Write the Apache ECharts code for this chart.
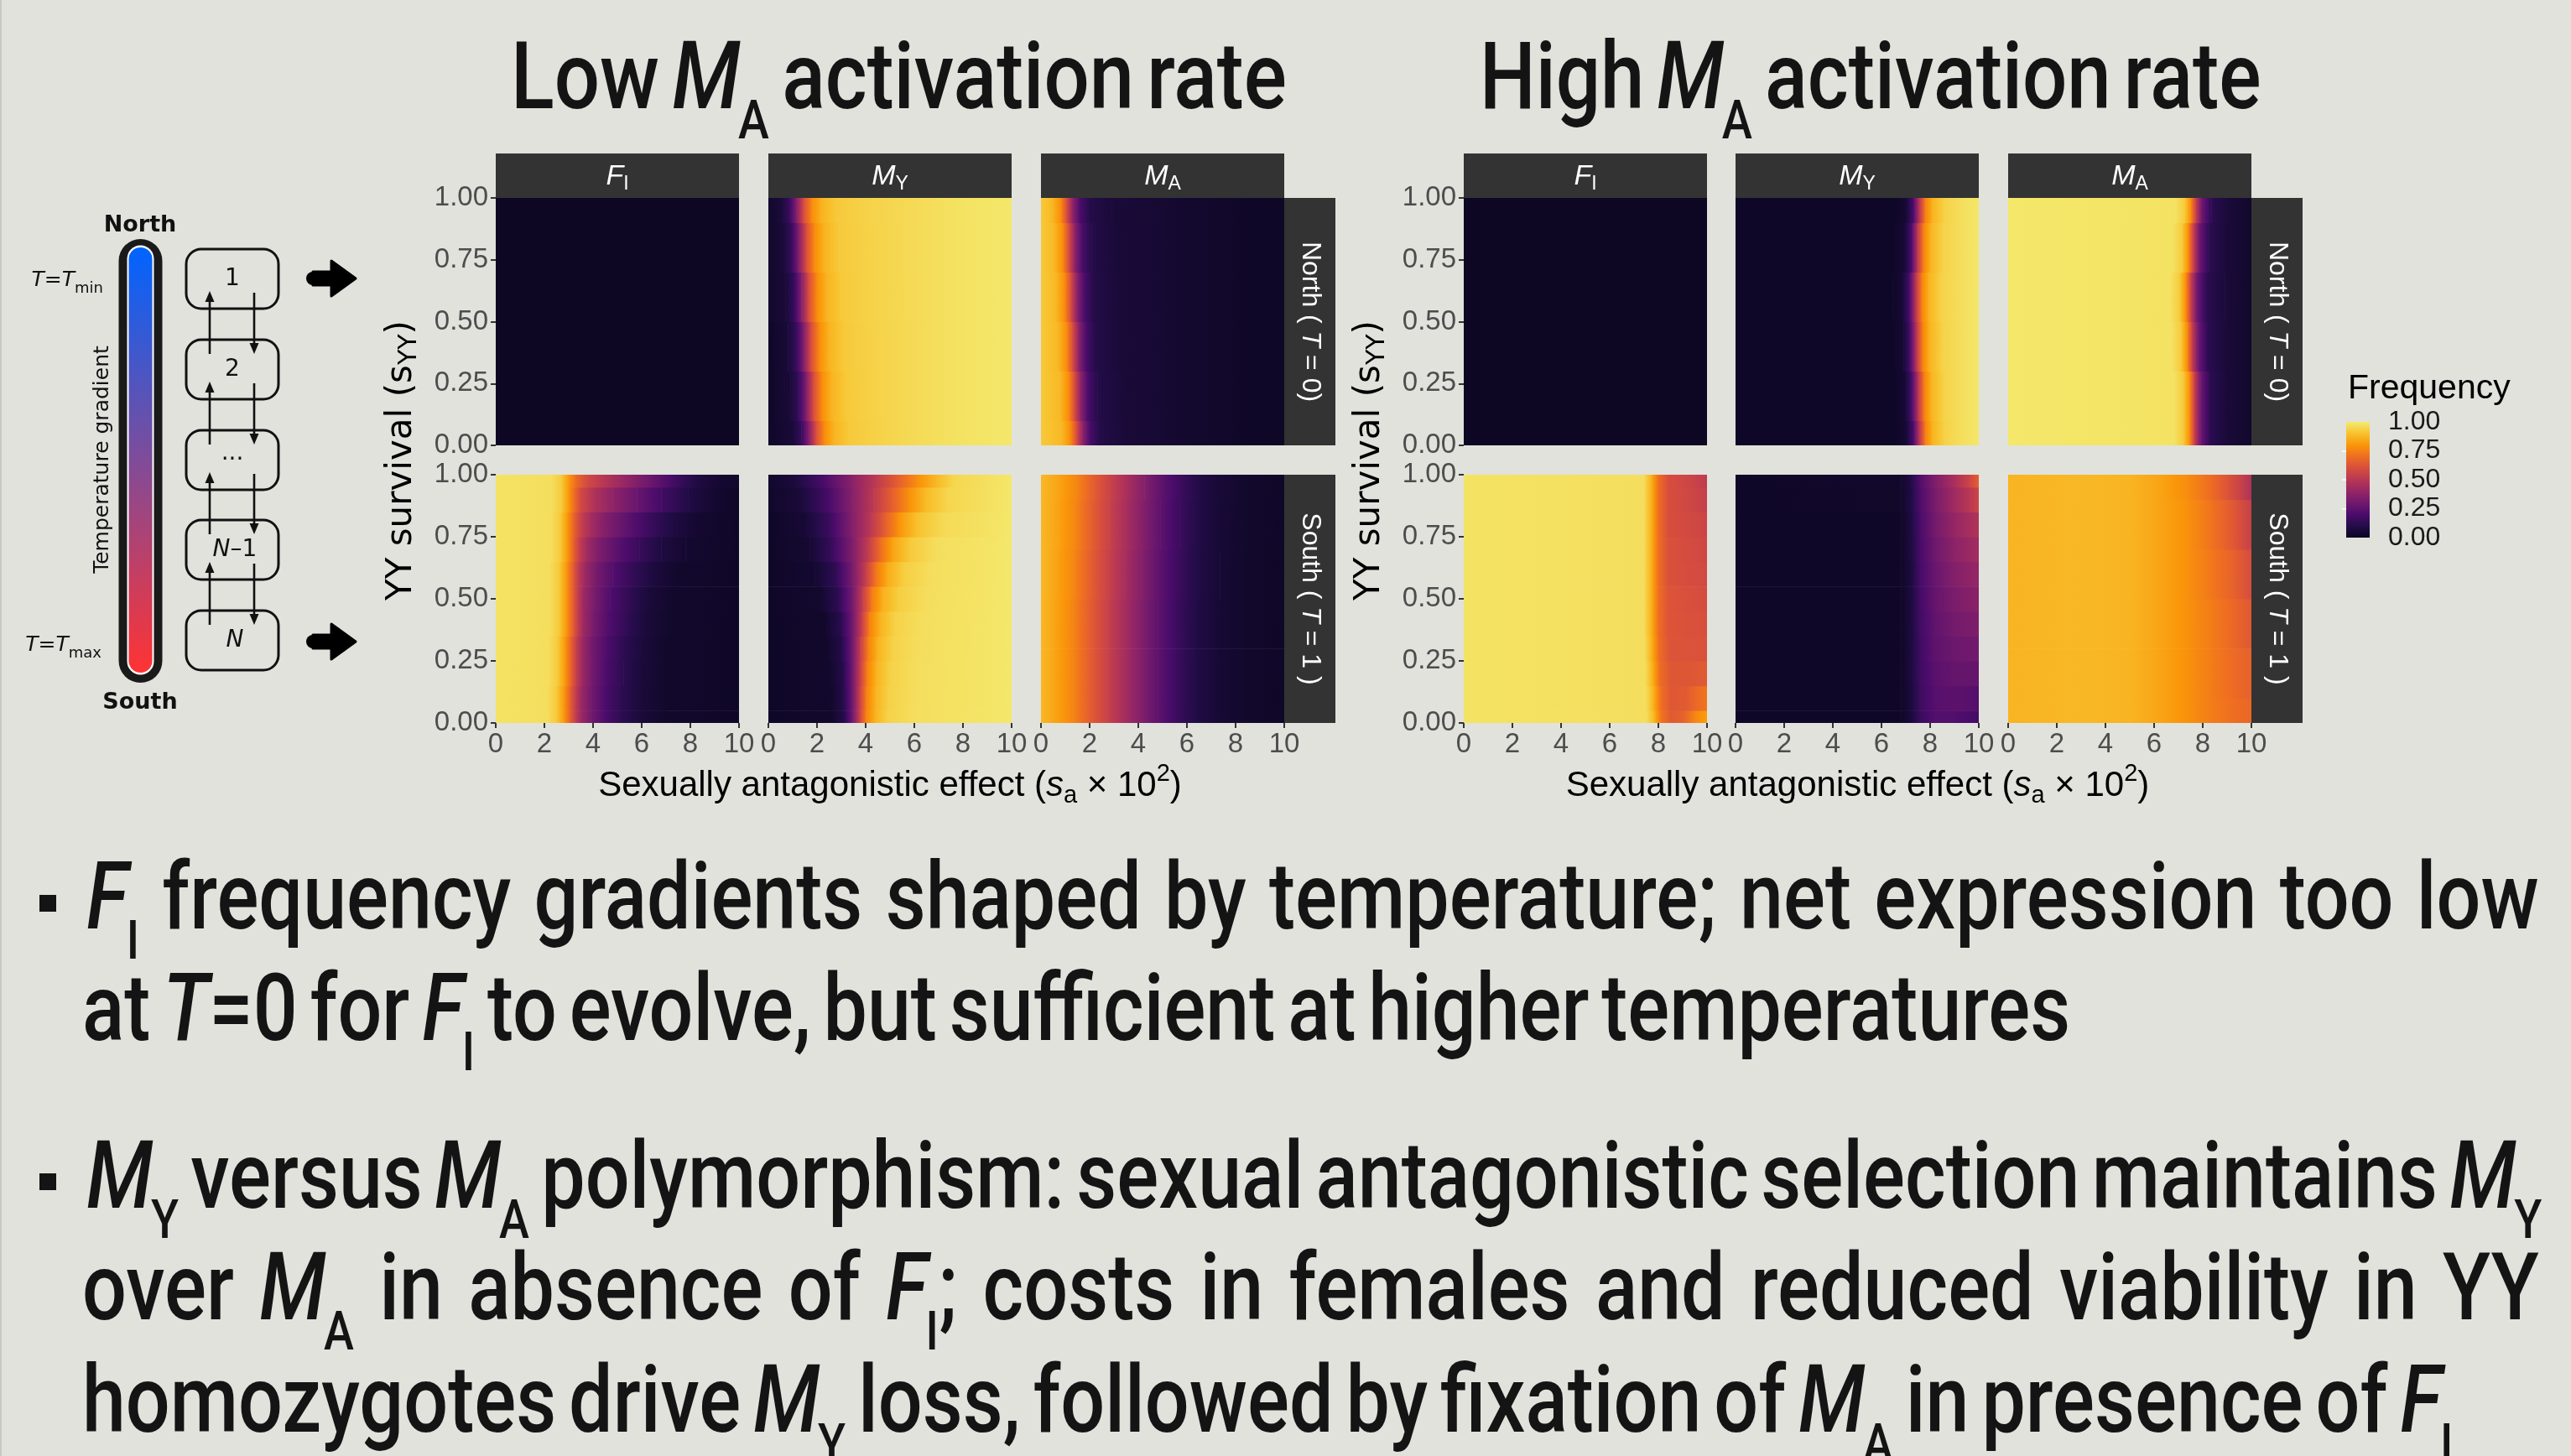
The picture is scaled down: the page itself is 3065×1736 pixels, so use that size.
<!DOCTYPE html>
<html><head><meta charset="utf-8">
<script src="https://cdn.jsdelivr.net/npm/echarts@6/dist/echarts.min.js"></script>
<style>
html,body{margin:0;padding:0;background:#E1E2DC;}
#wrap{position:relative;width:3065px;height:1736px;overflow:hidden;background:#E1E2DC;}
#chart{position:absolute;left:0;top:0;width:3065px;height:1736px;}
.t{position:absolute;white-space:nowrap;font-family:Roboto,'Liberation Sans',sans-serif;font-weight:500;font-size:112px;line-height:1;color:#141414;transform-origin:0 50%;word-spacing:-10px;}
.t i{font-style:italic;}
.t sub{font-size:0.58em;vertical-align:-0.55em;line-height:0;font-style:normal;margin-left:-0.04em;}
.bl{display:inline-block;width:0;height:0;vertical-align:baseline;}
.sq{position:absolute;width:20px;height:20px;background:#141414;}
</style></head>
<body><div id="wrap"><div id="chart"></div>
<div class="t" id="title0">Low <i>M</i><sub>A</sub> activation rate<span class="bl"></span></div>
<div class="t" id="title1">High <i>M</i><sub>A</sub> activation rate<span class="bl"></span></div>
<div class="sq" style="left:47px;top:1067px"></div>
<div class="t" id="b1"><i>F</i><sub>I</sub> frequency gradients shaped by temperature; net expression too low<span class="bl"></span></div>
<div class="t" id="b2">at <i>T</i>=0 for <i>F</i><sub>I</sub> to evolve, but sufficient at higher temperatures<span class="bl"></span></div>
<div class="sq" style="left:47px;top:1399px"></div>
<div class="t" id="b3"><i>M</i><sub>Y</sub> versus <i>M</i><sub>A</sub> polymorphism: sexual antagonistic selection maintains <i>M</i><sub>Y</sub><span class="bl"></span></div>
<div class="t" id="b4">over <i>M</i><sub>A</sub> in absence of <i>F</i><sub>I</sub>; costs in females and reduced viability in YY<span class="bl"></span></div>
<div class="t" id="b5">homozygotes drive <i>M</i><sub>Y</sub> loss, followed by fixation of <i>M</i><sub>A</sub> in presence of <i>F</i><sub>I</sub><span class="bl"></span></div>
</div>
<script>
// ---------------- DATA ----------------
const X_TICKS = [0, 2, 4, 6, 8, 10];
const Y_TICKS = [0, 0.25, 0.5, 0.75, 1];
const LEGEND_TICKS = [0, 0.25, 0.5, 0.75, 1];
const COLUMN_LABELS = [['F','I'], ['M','Y'], ['M','A']];
const ROW_LABELS = ['North ( {i|T} = 0)', 'South ( {i|T} = 1 )'];
// Each panel: list of profiles read at evenly spaced YY-survival heights (first = 0, last = 1);
// each profile = [sa*100, frequency] pairs.
const LOW_NORTH_FI = [
  [[0,0.01],[10,0.01]]];
const LOW_NORTH_MY = [
  [[0,0.02],[1.0,0.06],[1.35,0.15],[1.65,0.35],[1.95,0.6],[2.3,0.78],[2.7,0.87],[3.3,0.92],[4.5,0.94],[6,0.96],[8,0.98],[10,0.99]],
  [[0,0.02],[0.9,0.06],[1.25,0.15],[1.55,0.35],[1.85,0.6],[2.2,0.78],[2.6,0.87],[3.2,0.92],[4.4,0.94],[6,0.96],[8,0.98],[10,0.99]],
  [[0,0.02],[0.8,0.06],[1.15,0.15],[1.45,0.35],[1.75,0.6],[2.1,0.78],[2.5,0.87],[3.1,0.92],[4.3,0.94],[6,0.96],[8,0.98],[10,0.99]],
  [[0,0.03],[0.7,0.06],[1.05,0.15],[1.35,0.35],[1.65,0.6],[2.0,0.78],[2.4,0.87],[3.0,0.92],[4.2,0.94],[6,0.96],[8,0.98],[10,0.99]],
  [[0,0.03],[0.6,0.06],[0.95,0.15],[1.25,0.35],[1.55,0.6],[1.9,0.78],[2.3,0.87],[2.9,0.92],[4.1,0.94],[6,0.96],[8,0.98],[10,0.99]],
  [[0,0.03],[0.5,0.06],[0.85,0.15],[1.15,0.35],[1.45,0.6],[1.8,0.78],[2.2,0.87],[2.8,0.92],[4.0,0.94],[6,0.96],[8,0.98],[10,0.99]]];
const LOW_NORTH_MA = [
  [[0,0.92],[0.85,0.88],[1.2,0.78],[1.45,0.6],[1.7,0.38],[2.0,0.2],[2.4,0.1],[3.4,0.06],[5,0.045],[7,0.03],[8.5,0.02],[10,0.015]],
  [[0,0.92],[0.77,0.88],[1.12,0.78],[1.37,0.6],[1.62,0.38],[1.92,0.2],[2.32,0.1],[3.3,0.06],[5,0.045],[7,0.03],[8.5,0.02],[10,0.015]],
  [[0,0.92],[0.69,0.88],[1.04,0.78],[1.29,0.6],[1.54,0.38],[1.84,0.2],[2.24,0.1],[3.2,0.06],[5,0.045],[7,0.03],[8.5,0.02],[10,0.015]],
  [[0,0.92],[0.61,0.88],[0.96,0.78],[1.21,0.6],[1.46,0.38],[1.76,0.2],[2.16,0.1],[3.1,0.06],[5,0.045],[7,0.03],[8.5,0.02],[10,0.015]],
  [[0,0.92],[0.53,0.88],[0.88,0.78],[1.13,0.6],[1.38,0.38],[1.68,0.2],[2.08,0.1],[3.0,0.06],[5,0.045],[7,0.03],[8.5,0.02],[10,0.015]],
  [[0,0.92],[0.45,0.88],[0.8,0.78],[1.05,0.6],[1.3,0.38],[1.6,0.2],[2.0,0.1],[2.9,0.06],[5,0.045],[7,0.03],[8.5,0.02],[10,0.015]]];
const LOW_SOUTH_FI = [
  [[0,0.98],[2.1,0.97],[2.5,0.92],[2.8,0.8],[3.05,0.66],[3.25,0.54],[3.5,0.42],[3.9,0.31],[4.5,0.2],[5.2,0.12],[6.0,0.06],[7,0.03],[10,0.02]],
  [[0,0.98],[2.1,0.97],[2.5,0.92],[2.8,0.8],[3.05,0.66],[3.25,0.54],[3.5,0.42],[3.9,0.31],[4.5,0.2],[5.2,0.12],[6.0,0.06],[7,0.03],[10,0.02]],
  [[0,0.98],[2.15,0.97],[2.55,0.92],[2.85,0.8],[3.1,0.66],[3.3,0.54],[3.55,0.42],[3.95,0.31],[4.55,0.2],[5.25,0.12],[6.05,0.06],[7,0.03],[10,0.02]],
  [[0,0.98],[2.15,0.97],[2.55,0.92],[2.85,0.8],[3.1,0.66],[3.3,0.54],[3.55,0.42],[3.95,0.31],[4.6,0.2],[5.3,0.12],[6.1,0.06],[7,0.03],[10,0.02]],
  [[0,0.98],[2.2,0.97],[2.6,0.92],[2.9,0.8],[3.15,0.66],[3.35,0.54],[3.6,0.42],[4.0,0.32],[4.65,0.21],[5.4,0.13],[6.2,0.06],[7.2,0.03],[10,0.02]],
  [[0,0.98],[2.2,0.97],[2.6,0.92],[2.9,0.8],[3.15,0.66],[3.35,0.54],[3.6,0.42],[4.05,0.32],[4.7,0.21],[5.5,0.13],[6.3,0.06],[7.3,0.03],[10,0.02]],
  [[0,0.98],[2.2,0.97],[2.6,0.92],[2.9,0.8],[3.15,0.66],[3.35,0.54],[3.65,0.42],[4.1,0.32],[4.8,0.22],[5.6,0.14],[6.5,0.07],[7.5,0.03],[10,0.02]],
  [[0,0.98],[2.25,0.97],[2.65,0.92],[2.95,0.8],[3.2,0.66],[3.4,0.55],[3.7,0.44],[4.2,0.34],[5.0,0.24],[5.9,0.15],[6.8,0.08],[7.8,0.04],[10,0.02]],
  [[0,0.98],[2.25,0.97],[2.65,0.92],[2.95,0.8],[3.2,0.67],[3.45,0.56],[3.8,0.46],[4.4,0.36],[5.3,0.26],[6.3,0.16],[7.3,0.08],[8.3,0.04],[10,0.02]],
  [[0,0.98],[2.3,0.97],[2.7,0.92],[3.0,0.8],[3.25,0.68],[3.5,0.58],[4.0,0.48],[4.8,0.38],[5.8,0.28],[6.8,0.18],[7.9,0.09],[9,0.04],[10,0.02]],
  [[0,0.98],[2.3,0.97],[2.7,0.92],[3.0,0.8],[3.3,0.69],[3.7,0.59],[4.4,0.5],[5.3,0.4],[6.3,0.29],[7.3,0.18],[8.3,0.08],[9.3,0.04],[10,0.03]]];
const LOW_SOUTH_MY = [
  [[0,0.02],[2.6,0.03],[3.1,0.1],[3.45,0.3],[3.75,0.55],[4.0,0.75],[4.4,0.87],[4.9,0.94],[6,0.97],[10,0.99]],
  [[0,0.02],[2.55,0.03],[3.08,0.1],[3.45,0.3],[3.76,0.55],[4.02,0.75],[4.42,0.87],[4.95,0.94],[6.05,0.97],[10,0.99]],
  [[0,0.02],[2.5,0.03],[3.05,0.1],[3.45,0.3],[3.78,0.55],[4.05,0.75],[4.45,0.87],[5.0,0.94],[6.1,0.97],[10,0.99]],
  [[0,0.02],[2.4,0.03],[3.0,0.1],[3.45,0.3],[3.8,0.55],[4.1,0.75],[4.5,0.87],[5.1,0.94],[6.2,0.97],[10,0.99]],
  [[0,0.02],[2.3,0.03],[2.95,0.11],[3.45,0.3],[3.85,0.55],[4.15,0.75],[4.6,0.87],[5.2,0.94],[6.3,0.97],[10,0.99]],
  [[0,0.02],[2.1,0.035],[2.85,0.12],[3.45,0.31],[3.9,0.55],[4.25,0.74],[4.7,0.86],[5.35,0.93],[6.5,0.97],[10,0.99]],
  [[0,0.02],[1.9,0.04],[2.75,0.13],[3.45,0.32],[4.0,0.54],[4.4,0.72],[4.9,0.85],[5.55,0.93],[6.7,0.97],[10,0.99]],
  [[0,0.02],[1.7,0.045],[2.6,0.15],[3.45,0.34],[4.1,0.53],[4.6,0.7],[5.1,0.83],[5.8,0.92],[6.9,0.97],[10,0.99]],
  [[0,0.02],[1.5,0.05],[2.5,0.16],[3.45,0.35],[4.25,0.52],[4.85,0.67],[5.4,0.8],[6.1,0.9],[7.2,0.96],[10,0.99]],
  [[0,0.025],[1.3,0.06],[2.4,0.18],[3.45,0.36],[4.35,0.52],[5.1,0.66],[5.8,0.79],[6.5,0.89],[7.4,0.95],[10,0.99]],
  [[0,0.03],[1.1,0.07],[2.3,0.2],[3.45,0.37],[4.45,0.52],[5.3,0.65],[6.1,0.78],[6.9,0.88],[7.6,0.95],[10,0.99]]];
const LOW_SOUTH_MA = [
  [[0,0.88],[0.6,0.83],[1.3,0.76],[2.0,0.65],[2.7,0.55],[3.4,0.45],[4.1,0.35],[4.8,0.25],[5.6,0.16],[6.4,0.09],[7.3,0.05],[8.5,0.03],[10,0.02]],
  [[0,0.88],[0.6,0.83],[1.3,0.76],[2.0,0.65],[2.7,0.55],[3.4,0.45],[4.1,0.35],[4.8,0.25],[5.6,0.16],[6.4,0.09],[7.3,0.05],[8.5,0.03],[10,0.02]],
  [[0,0.88],[0.6,0.83],[1.3,0.76],[2.0,0.65],[2.7,0.55],[3.4,0.45],[4.1,0.35],[4.8,0.25],[5.6,0.16],[6.4,0.09],[7.3,0.05],[8.5,0.03],[10,0.02]],
  [[0,0.88],[0.65,0.83],[1.35,0.76],[2.05,0.65],[2.75,0.55],[3.45,0.45],[4.15,0.35],[4.85,0.25],[5.65,0.16],[6.45,0.09],[7.35,0.05],[8.5,0.03],[10,0.02]],
  [[0,0.88],[0.7,0.83],[1.4,0.76],[2.1,0.65],[2.8,0.55],[3.5,0.45],[4.2,0.35],[4.9,0.25],[5.7,0.16],[6.5,0.09],[7.4,0.05],[8.6,0.03],[10,0.02]],
  [[0,0.88],[0.75,0.83],[1.45,0.76],[2.15,0.65],[2.85,0.55],[3.55,0.45],[4.25,0.35],[4.95,0.25],[5.75,0.16],[6.55,0.09],[7.45,0.05],[8.6,0.03],[10,0.02]]];
const HIGH_NORTH_FI = [
  [[0,0.01],[10,0.01]]];
const HIGH_NORTH_MY = [
  [[0,0.02],[6.6,0.02],[7.0,0.05],[7.3,0.2],[7.55,0.5],[7.8,0.75],[8.1,0.87],[8.6,0.94],[9.3,0.97],[10,0.99]],
  [[0,0.02],[6.55,0.02],[6.95,0.05],[7.25,0.2],[7.5,0.5],[7.75,0.75],[8.05,0.87],[8.55,0.94],[9.3,0.97],[10,0.99]],
  [[0,0.02],[6.5,0.02],[6.9,0.05],[7.18,0.2],[7.43,0.5],[7.68,0.75],[7.98,0.87],[8.5,0.94],[9.3,0.97],[10,0.99]],
  [[0,0.02],[6.45,0.02],[6.85,0.05],[7.15,0.2],[7.4,0.5],[7.65,0.75],[7.95,0.87],[8.45,0.94],[9.3,0.97],[10,0.99]],
  [[0,0.02],[6.5,0.02],[6.92,0.05],[7.22,0.2],[7.47,0.5],[7.72,0.75],[8.02,0.87],[8.52,0.94],[9.3,0.97],[10,0.99]],
  [[0,0.02],[6.6,0.02],[7.0,0.05],[7.3,0.2],[7.55,0.5],[7.8,0.75],[8.1,0.87],[8.6,0.94],[9.3,0.97],[10,0.99]]];
const HIGH_NORTH_MA = [
  [[0,0.99],[6.8,0.98],[7.2,0.92],[7.45,0.78],[7.65,0.55],[7.9,0.3],[8.3,0.12],[9.0,0.06],[10,0.03]],
  [[0,0.99],[6.8,0.98],[7.2,0.92],[7.45,0.78],[7.65,0.55],[7.9,0.3],[8.3,0.12],[9.0,0.06],[10,0.03]],
  [[0,0.99],[6.7,0.98],[7.1,0.92],[7.35,0.78],[7.55,0.55],[7.8,0.3],[8.2,0.12],[8.95,0.06],[10,0.03]],
  [[0,0.99],[6.65,0.98],[7.05,0.92],[7.3,0.78],[7.5,0.55],[7.75,0.3],[8.15,0.12],[8.9,0.06],[10,0.03]],
  [[0,0.99],[6.75,0.98],[7.15,0.92],[7.4,0.78],[7.6,0.55],[7.85,0.3],[8.25,0.12],[9.0,0.06],[10,0.03]],
  [[0,0.99],[6.85,0.98],[7.25,0.92],[7.5,0.78],[7.7,0.55],[7.95,0.3],[8.35,0.12],[9.05,0.06],[10,0.03]]];
const HIGH_SOUTH_FI = [
  [[0,0.98],[7.5,0.97],[7.8,0.88],[8.1,0.72],[8.5,0.64],[9.0,0.66],[9.5,0.76],[10,0.82]],
  [[0,0.98],[7.48,0.97],[7.78,0.87],[8.08,0.71],[8.5,0.63],[9.1,0.64],[9.6,0.69],[10,0.72]],
  [[0,0.98],[7.45,0.97],[7.75,0.86],[8.05,0.7],[8.5,0.63],[9.3,0.63],[10,0.64]],
  [[0,0.98],[7.42,0.97],[7.72,0.86],[8.02,0.7],[8.45,0.62],[10,0.61]],
  [[0,0.98],[7.4,0.97],[7.7,0.86],[8.0,0.7],[8.4,0.62],[10,0.6]],
  [[0,0.98],[7.4,0.97],[7.7,0.86],[8.0,0.7],[8.4,0.62],[10,0.59]],
  [[0,0.98],[7.4,0.97],[7.7,0.86],[8.0,0.7],[8.4,0.61],[10,0.58]],
  [[0,0.98],[7.4,0.97],[7.7,0.86],[8.0,0.7],[8.4,0.61],[10,0.57]],
  [[0,0.98],[7.4,0.97],[7.7,0.86],[8.0,0.7],[8.4,0.6],[10,0.56]],
  [[0,0.98],[7.4,0.97],[7.7,0.86],[8.0,0.7],[8.4,0.6],[9.5,0.56],[10,0.54]],
  [[0,0.98],[7.4,0.97],[7.7,0.86],[8.0,0.7],[8.4,0.6],[9.5,0.55],[10,0.52]]];
const HIGH_SOUTH_MY = [
  [[0,0.02],[6.8,0.02],[7.2,0.06],[7.6,0.16],[8.2,0.22],[9.0,0.22],[10,0.18]],
  [[0,0.02],[6.8,0.02],[7.2,0.065],[7.6,0.165],[8.2,0.23],[9.0,0.245],[10,0.225]],
  [[0,0.02],[6.8,0.02],[7.2,0.07],[7.6,0.17],[8.2,0.24],[9.0,0.27],[10,0.27]],
  [[0,0.02],[6.8,0.02],[7.2,0.07],[7.6,0.175],[8.2,0.25],[9.0,0.29],[10,0.305]],
  [[0,0.02],[6.8,0.02],[7.2,0.07],[7.6,0.18],[8.2,0.26],[9.0,0.31],[10,0.34]],
  [[0,0.02],[6.8,0.02],[7.2,0.07],[7.6,0.185],[8.2,0.27],[9.0,0.33],[10,0.37]],
  [[0,0.02],[6.8,0.02],[7.2,0.07],[7.6,0.19],[8.2,0.28],[9.0,0.35],[10,0.4]],
  [[0,0.02],[6.8,0.02],[7.2,0.075],[7.6,0.195],[8.2,0.295],[9.0,0.375],[10,0.44]],
  [[0,0.02],[6.8,0.02],[7.2,0.08],[7.6,0.2],[8.2,0.31],[9.0,0.4],[10,0.48]],
  [[0,0.02],[6.8,0.025],[7.2,0.085],[7.6,0.21],[8.2,0.325],[9.0,0.43],[9.6,0.5],[10,0.57]],
  [[0,0.02],[6.8,0.03],[7.2,0.09],[7.6,0.22],[8.2,0.34],[9.0,0.46],[9.6,0.56],[10,0.66]]];
const HIGH_SOUTH_MA = [
  [[0,0.87],[3,0.88],[5,0.87],[6.3,0.83],[7.3,0.79],[8.3,0.74],[9.3,0.7],[10,0.68]],
  [[0,0.87],[3,0.88],[5,0.87],[6.3,0.83],[7.3,0.79],[8.3,0.74],[9.3,0.69],[10,0.66]],
  [[0,0.87],[3,0.88],[5,0.87],[6.3,0.83],[7.3,0.79],[8.3,0.74],[9.3,0.68],[10,0.63]],
  [[0,0.87],[3,0.88],[5,0.87],[6.3,0.83],[7.3,0.79],[8.3,0.73],[9.3,0.66],[10,0.59]],
  [[0,0.87],[3,0.88],[5,0.87],[6.3,0.83],[7.3,0.79],[8.3,0.72],[9.3,0.63],[10,0.54]],
  [[0,0.87],[3,0.88],[5,0.87],[6.3,0.83],[7.3,0.78],[8.3,0.7],[9.0,0.62],[9.6,0.54],[10,0.47]]];

// inferno-like palette, value 0 -> 1
const PALETTE = ['#0A0620','#240C49','#4B0C6B','#70196D','#952665','#B83754','#D74E3D','#EE6D22','#FA9609','#F8C12D','#F3EB71'];

// ---------------- LAYOUT ----------------
const PANEL_DATA = [
  [[LOW_NORTH_FI, LOW_NORTH_MY, LOW_NORTH_MA], [LOW_SOUTH_FI, LOW_SOUTH_MY, LOW_SOUTH_MA]],
  [[HIGH_NORTH_FI, HIGH_NORTH_MY, HIGH_NORTH_MA], [HIGH_SOUTH_FI, HIGH_SOUTH_MY, HIGH_SOUTH_MA]]
];
const COL_LEFT = [[591, 916, 1241], [1745, 2069, 2394]];
const ROW_TOP = [236, 566], ROW_H = [295, 296], PW = 290;
const STRIP_TOP = 183, STRIP_H = 53, RSTRIP_W = 61;
const FONT_AX = "'Liberation Sans', Arial, Helvetica, sans-serif";
const FONT_DG = "'DejaVu Sans', Verdana, sans-serif";

function clamp01(v){ return Math.max(0, Math.min(1, v)); }
function colorAt(v){
  v = clamp01(v);
  if (echarts.color && echarts.color.lerp) return echarts.color.lerp(v, PALETTE);
  const n = PALETTE.length - 1, f = v * n, i = Math.min(n - 1, Math.floor(f)), t = f - i;
  const p = c => [parseInt(c.substr(1,2),16), parseInt(c.substr(3,2),16), parseInt(c.substr(5,2),16)];
  const a = p(PALETTE[i]), b = p(PALETTE[i+1]);
  return 'rgb(' + a.map((x,k)=>Math.round(x + (b[k]-x)*t)).join(',') + ')';
}
function segmentStops(v0, v1){
  const stops = [{offset:0, color:colorAt(v0)}];
  const lo = Math.min(v0, v1), hi = Math.max(v0, v1), n = PALETTE.length - 1;
  if (hi - lo > 1e-6) {
    for (let k = 1; k < n; k++) {
      const b = k / n;
      if (b > lo && b < hi) stops.push({offset:(b - v0) / (v1 - v0), color:PALETTE[k]});
    }
  }
  stops.push({offset:1, color:colorAt(v1)});
  stops.sort((a, b) => a.offset - b.offset);
  return stops;
}
function buildCells(profiles){
  const out = [], n = profiles.length;
  const lev = k => n === 1 ? 0.5 : k / (n - 1);
  profiles.forEach((row, k) => {
    const yLo = k === 0 ? 0 : (lev(k-1) + lev(k)) / 2;
    const yHi = k === n - 1 ? 1 : (lev(k) + lev(k+1)) / 2;
    for (let i = 0; i < row.length - 1; i++)
      out.push([row[i][0], row[i+1][0], yLo, yHi, row[i][1], row[i+1][1]]);
  });
  return out;
}
function renderCell(params, api){
  const a = api.coord([api.value(0), api.value(3)]);
  const b = api.coord([api.value(1), api.value(2)]);
  return {
    type:'rect', silent:true,
    shape:{x:a[0], y:a[1], width:b[0]-a[0]+0.6, height:b[1]-a[1]+0.6},
    style:{fill:new echarts.graphic.LinearGradient(0,0,1,0, segmentStops(api.value(4), api.value(5)))}
  };
}
function renderLegend(params, api){
  const a = api.coord([0, 1]), b = api.coord([1, 0]);
  return {
    type:'rect', silent:true,
    shape:{x:a[0], y:a[1], width:b[0]-a[0], height:b[1]-a[1]},
    style:{fill:new echarts.graphic.LinearGradient(0,1,0,0, segmentStops(api.value(0), api.value(1)))}
  };
}

const grids = [], xAxes = [], yAxes = [], series = [], graphics = [];
let idx = 0;
for (let g = 0; g < 2; g++) {
  for (let r = 0; r < 2; r++) {
    for (let c = 0; c < 3; c++) {
      const left = COL_LEFT[g][c], top = ROW_TOP[r], h = ROW_H[r];
      const isBottom = r === 1, isLeft = c === 0;
      grids.push({left:left, top:top, width:PW, height:h, containLabel:false, outerBoundsMode:'none', show:false});
      xAxes.push({gridIndex:idx, type:'value', min:X_TICKS[0], max:X_TICKS[X_TICKS.length-1], interval:2,
        axisLine:{show:false}, splitLine:{show:false},
        axisTick:{show:isBottom, length:6, lineStyle:{color:'#333333', width:2}},
        axisLabel:{show:isBottom, color:'#4D4D4D', fontSize:33, fontFamily:FONT_AX, margin:9,
          formatter:v=>String(v)}});
      yAxes.push({gridIndex:idx, type:'value', min:Y_TICKS[0], max:Y_TICKS[Y_TICKS.length-1], interval:0.25,
        axisLine:{show:false}, splitLine:{show:false},
        axisTick:{show:isLeft, length:6, lineStyle:{color:'#333333', width:2}},
        axisLabel:{show:isLeft, color:'#4D4D4D', fontSize:33, fontFamily:FONT_AX, margin:9,
          formatter:v=>v.toFixed(2)}});
      series.push({type:'custom', xAxisIndex:idx, yAxisIndex:idx, clip:true, silent:true,
        renderItem:renderCell, data:buildCells(PANEL_DATA[g][r][c]), animation:false});
      if (r === 0) {
        graphics.push({type:'rect', shape:{x:left, y:STRIP_TOP, width:PW, height:STRIP_H}, style:{fill:'#333333'}, silent:true});
        graphics.push({type:'text', x:left + PW/2, y:STRIP_TOP + STRIP_H/2 + 1, silent:true, style:{
          text:'{i|' + COLUMN_LABELS[c][0] + '}{s|' + COLUMN_LABELS[c][1] + '}',
          align:'center', verticalAlign:'middle', textAlign:'center', textVerticalAlign:'middle', fill:'#FFFFFF',
          rich:{i:{fontSize:34, fontStyle:'italic', fontFamily:FONT_AX, lineHeight:46, fill:'#FFFFFF'},
                s:{fontSize:23, fontFamily:FONT_AX, lineHeight:23, padding:[18,0,0,0], fill:'#FFFFFF'}}}});
      }
      if (c === 2) {
        graphics.push({type:'rect', shape:{x:left + PW, y:top, width:RSTRIP_W, height:h}, style:{fill:'#333333'}, silent:true});
        graphics.push({type:'text', x:left + PW + RSTRIP_W/2, y:top + h/2, rotation:-Math.PI/2, silent:true, style:{
          text:ROW_LABELS[r], align:'center', verticalAlign:'middle', textAlign:'center', textVerticalAlign:'middle',
          fill:'#FFFFFF', fontSize:32, fontFamily:FONT_AX,
          rich:{i:{fontSize:32, fontStyle:'italic', fontFamily:FONT_AX, fill:'#FFFFFF'}}}});
      }
      idx++;
    }
  }
  const gx0 = COL_LEFT[g][0], gx1 = COL_LEFT[g][2] + PW;
  graphics.push({type:'text', x:(gx0 + gx1)/2, y:937, silent:true, style:{
    text:'Sexually antagonistic effect ({i|s}{sb|a}{n| × 10}{sp|2}{n|)}',
    align:'center', verticalAlign:'middle', textAlign:'center', textVerticalAlign:'middle',
    fill:'#000000', fontSize:42, fontFamily:FONT_AX, lineHeight:60,
    rich:{i:{fontSize:42, fontStyle:'italic', fontFamily:FONT_AX, lineHeight:60, fill:'#000'},
          n:{fontSize:42, fontFamily:FONT_AX, lineHeight:60, fill:'#000'},
          sb:{fontSize:29, fontFamily:FONT_AX, lineHeight:29, padding:[24,0,0,0], fill:'#000'},
          sp:{fontSize:29, fontFamily:FONT_AX, lineHeight:29, padding:[0,0,28,0], fill:'#000'}}}});
  graphics.push({type:'text', x:gx0 - 112, y:(ROW_TOP[0] + ROW_TOP[1] + ROW_H[1])/2, rotation:Math.PI/2, silent:true, style:{
    text:'YY survival ({n|s}{sb|YY}{n|)}',
    align:'center', verticalAlign:'middle', textAlign:'center', textVerticalAlign:'middle',
    fill:'#000000', fontSize:42, fontFamily:FONT_DG, lineHeight:58,
    rich:{n:{fontSize:42, fontFamily:FONT_DG, lineHeight:58, fill:'#000'},
          sb:{fontSize:30, fontFamily:FONT_DG, lineHeight:30, padding:[18,0,0,0], fill:'#000'}}}});
}

// legend colour bar
grids.push({left:2797, top:503, width:28, height:138, containLabel:false, outerBoundsMode:'none', show:false});
xAxes.push({gridIndex:12, type:'value', min:0, max:1, show:false});
yAxes.push({gridIndex:12, type:'value', min:LEGEND_TICKS[0], max:LEGEND_TICKS[LEGEND_TICKS.length-1], interval:0.25, position:'right',
  axisLine:{show:false}, splitLine:{show:false},
  axisTick:{show:true, inside:true, length:5, lineStyle:{color:'#FFFFFF', width:1.5}, customValues:[0.25,0.5,0.75]},
  axisLabel:{show:true, margin:22, fontSize:32, color:'#1A1A1A', fontFamily:FONT_AX, formatter:v=>v.toFixed(2)}});
yAxes.push({gridIndex:12, type:'value', min:0, max:1, interval:0.25, position:'left',
  axisLine:{show:false}, splitLine:{show:false}, axisLabel:{show:false},
  axisTick:{show:true, inside:true, length:5, lineStyle:{color:'#FFFFFF', width:1.5}, customValues:[0.25,0.5,0.75]}});
series.push({type:'custom', xAxisIndex:12, yAxisIndex:12, silent:true, renderItem:renderLegend,
  data:[[LEGEND_TICKS[0], LEGEND_TICKS[LEGEND_TICKS.length-1]]], z:1});
graphics.push({type:'text', x:2799, y:464, silent:true, style:{text:'Frequency', align:'left', verticalAlign:'middle',
  textAlign:'left', textVerticalAlign:'middle', fill:'#000', fontSize:41, fontFamily:FONT_AX}});

// ---------------- DIAGRAM (left) ----------------
graphics.push({type:'rect', shape:{x:0, y:0, width:2, height:1736}, style:{fill:'#C8C9C3'}, silent:true});
graphics.push({type:'rect', shape:{x:141.5, y:285, width:52, height:529, r:26}, style:{fill:'#1A1A1A'}, silent:true});
graphics.push({type:'rect', shape:{x:151.5, y:292.5, width:32, height:512, r:16}, style:{fill:'#FFFFFF'}, silent:true});
graphics.push({type:'rect', shape:{x:153.5, y:295, width:28, height:507, r:14}, silent:true,
  style:{fill:new echarts.graphic.LinearGradient(0,0,0,1,[{offset:0,color:'#0064FF'},{offset:1,color:'#FF3333'}])}});
const dText = (x, y, text, opt) => graphics.push(Object.assign({type:'text', x:x, y:y, silent:true},
  {style:Object.assign({text:text, align:'center', verticalAlign:'middle', textAlign:'center', textVerticalAlign:'middle',
    fill:'#111111', fontSize:28, fontFamily:FONT_DG}, opt || {})}));
dText(167, 269, 'North', {fontWeight:'bold', fontSize:27});
dText(167, 838, 'South', {fontWeight:'bold', fontSize:27});
graphics.push({type:'text', x:122, y:548, rotation:Math.PI/2, silent:true, style:{text:'Temperature gradient',
  align:'center', verticalAlign:'middle', textAlign:'center', textVerticalAlign:'middle', fill:'#111', fontSize:25, fontFamily:FONT_DG}});
const tRich = {i:{fontSize:25, fontStyle:'italic', fontFamily:FONT_DG, lineHeight:44, fill:'#111'},
  n:{fontSize:25, fontFamily:FONT_DG, lineHeight:44, fill:'#111'},
  s:{fontSize:18, fontFamily:FONT_DG, lineHeight:18, padding:[20,0,0,0], fill:'#111'}};
dText(123, 334, '{i|T}{n|=}{i|T}{s|min}', {align:'right', textAlign:'right', rich:tRich});
dText(121, 769, '{i|T}{n|=}{i|T}{s|max}', {align:'right', textAlign:'right', rich:tRich});
const BOX_TOPS = [297, 405, 513, 620, 728], BOX_H = 71;
const BOX_LABELS = ['1', '2', '...', '{i|N}–1', '{i|N}'];
BOX_TOPS.forEach((t, k) => {
  graphics.push({type:'rect', shape:{x:222, y:t, width:110, height:BOX_H, r:18}, silent:true,
    style:{fill:'rgba(0,0,0,0)', stroke:'#111111', lineWidth:3}});
  dText(k >= 3 ? 280 : 277, t + BOX_H/2 + (k === 2 ? -8 : 0), BOX_LABELS[k],
    {rich:{i:{fontSize:28, fontStyle:'italic', fontFamily:FONT_DG, fill:'#111'}}});
  if (k < BOX_TOPS.length - 1) {
    const tail = BOX_TOPS[k+1] + 17, tip = t + BOX_H - 21;
    graphics.push({type:'line', shape:{x1:250, y1:tail, x2:250, y2:tip + 8}, style:{stroke:'#111', lineWidth:2.6}, silent:true});
    graphics.push({type:'polygon', shape:{points:[[244.5, tip + 13], [250, tip], [255.5, tip + 13]]}, style:{fill:'#111'}, silent:true});
    const dTail = t + BOX_H - 19, dTip = BOX_TOPS[k+1] + 17;
    graphics.push({type:'line', shape:{x1:303, y1:dTail, x2:303, y2:dTip - 8}, style:{stroke:'#111', lineWidth:2.6}, silent:true});
    graphics.push({type:'polygon', shape:{points:[[297.5, dTip - 13], [303, dTip], [308.5, dTip - 13]]}, style:{fill:'#111'}, silent:true});
  }
});
[332, 765].forEach(cy => {
  graphics.push({type:'circle', shape:{cx:373, cy:cy, r:8}, style:{fill:'#000'}, silent:true});
  graphics.push({type:'polygon', silent:true,
    shape:{points:[[373,cy-8],[395,cy-8],[395,cy-21],[424,cy],[395,cy+21],[395,cy+8],[373,cy+8]]},
    style:{fill:'#000', stroke:'#000', lineWidth:3, lineJoin:'round'}});
});

const chart = echarts.init(document.getElementById('chart'), null, {renderer:'canvas'});
chart.setOption({
  backgroundColor:'#E1E2DC', animation:false,
  grid:grids, xAxis:xAxes, yAxis:yAxes, series:series,
  graphic:{elements:graphics}
});

// ---------------- HTML text layout (titles, bullets) ----------------
const TEXT_LAYOUT = [
  {id:'title0', left:609, base:129, right:1534, mode:'fit'},
  {id:'title1', left:1764, base:129, right:2696, mode:'fit'},
  {id:'b1', left:103, base:1107, right:3027, mode:'justify'},
  {id:'b2', left:98, base:1240, right:2468, mode:'fit'},
  {id:'b3', left:103, base:1440, right:3030, mode:'justify'},
  {id:'b4', left:98, base:1573, right:3027, mode:'justify'},
  {id:'b5', left:98, base:1707, right:2924, mode:'fit'}
];
function layoutTexts(){
  TEXT_LAYOUT.forEach(t => {
    const el = document.getElementById(t.id);
    el.style.transform = 'none'; el.style.wordSpacing = '-10px';
    el.style.left = t.left + 'px'; el.style.top = '0px';
    t.w = el.offsetWidth;
    const bl = el.querySelector('.bl').offsetTop;
    el.style.top = (t.base - bl) + 'px';
    t.fit = (t.right - t.left) / t.w;
  });
  const fits = TEXT_LAYOUT.filter(t => t.mode === 'fit' && t.id[0] === 'b').map(t => t.fit);
  const s = fits.reduce((a, b) => a + b, 0) / fits.length;
  TEXT_LAYOUT.forEach(t => {
    const el = document.getElementById(t.id);
    if (t.mode === 'fit') { el.style.transform = 'scaleX(' + t.fit + ')'; }
    else {
      const n = (el.textContent.match(/ /g) || []).length;
      const extra = ((t.right - t.left) / s - t.w) / n;
      el.style.wordSpacing = (-10 + extra) + 'px';
      el.style.transform = 'scaleX(' + s + ')';
    }
  });
}
layoutTexts();
if (document.fonts && document.fonts.ready) document.fonts.ready.then(layoutTexts);
</script>
</body></html>
